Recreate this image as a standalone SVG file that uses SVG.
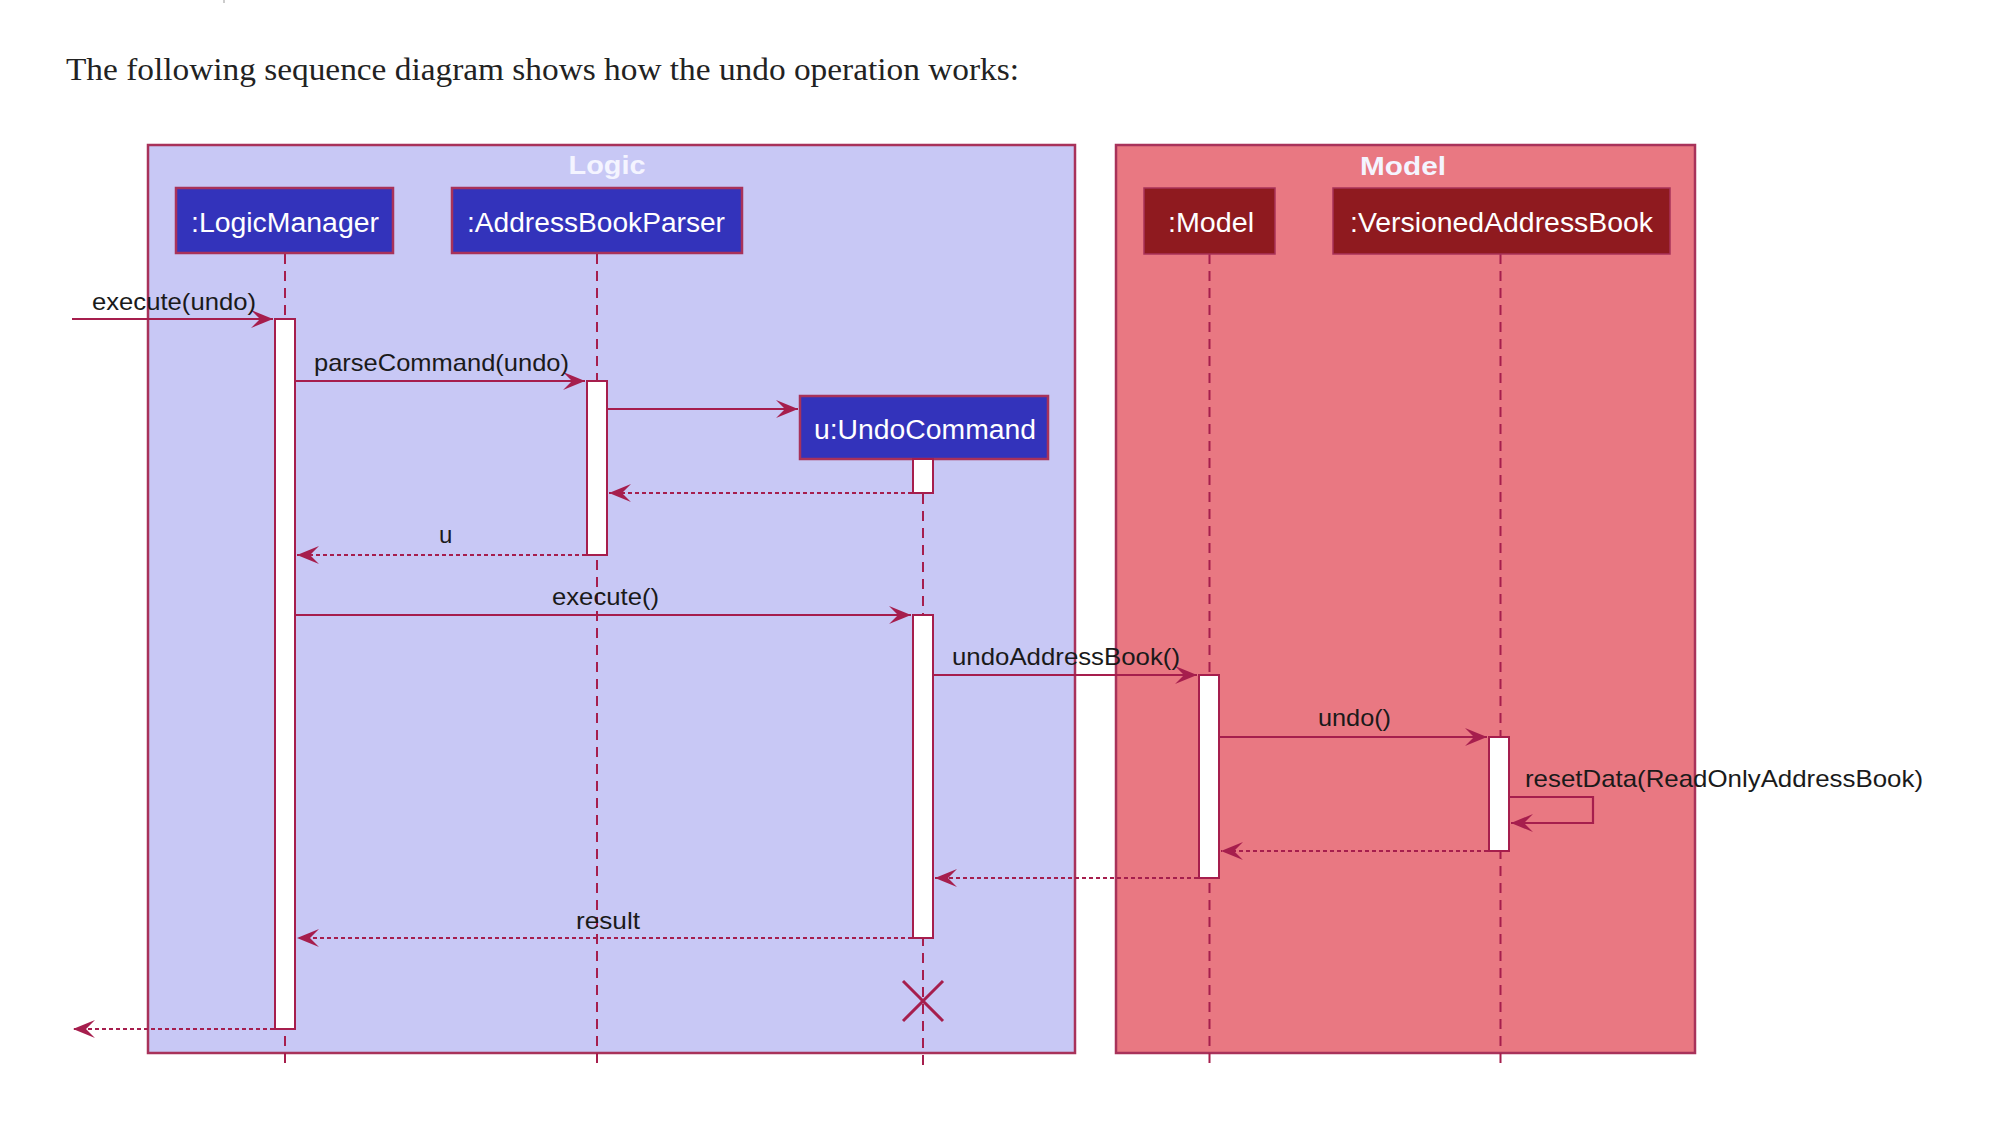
<svg xmlns="http://www.w3.org/2000/svg" width="1992" height="1122" viewBox="0 0 1992 1122">
<style>
.title{font-family:"Liberation Serif","Times New Roman",serif;font-size:31px;fill:#222}
.frameL{fill:#C8C8F5;stroke:#A8325A;stroke-width:2.5}
.frameM{fill:#E97882;stroke:#A8325A;stroke-width:2.5}
.ftitle{font-family:"Liberation Sans",Arial,sans-serif;font-weight:bold;font-size:26px;fill:#F4F4FF;text-anchor:middle}
.pL{fill:#3333BB;stroke:#A8325A;stroke-width:2.5}
.pM{fill:#8F1A1F;stroke:#A8325A;stroke-width:1.5}
.ptxt{font-family:"Liberation Sans",Arial,sans-serif;font-size:27px;fill:#FFFFFF}
.life{stroke:#A61E4D;stroke-width:2;stroke-dasharray:10,7;fill:none}
.act{fill:#FFFFFF;stroke:#A61E4D;stroke-width:2}
.msg{stroke:#A61E4D;stroke-width:2.2;fill:none;marker-end:url(#ah)}
.ret{stroke:#A61E4D;stroke-width:2.2;fill:none;stroke-dasharray:4,3;marker-end:url(#ah)}
.mtxt{font-family:"Liberation Sans",Arial,sans-serif;font-size:24px;fill:#1a1a1a}
</style>
<defs>
<marker id="ah" markerUnits="userSpaceOnUse" viewBox="-24 -11 26 22" refX="0" refY="0" markerWidth="26" markerHeight="22" orient="auto">
<path d="M0,0 L-22,-9 L-13,0 L-22,9 Z" fill="#A61E4D"/>
</marker>
</defs>
<rect width="1992" height="1122" fill="#FFFFFF"/>
<rect x="223" y="0" width="2" height="3" fill="#CCCCCC"/>
<text class="title" x="66" y="80" textLength="953" lengthAdjust="spacingAndGlyphs">The following sequence diagram shows how the undo operation works:</text>

<g id="frame-logic">
<rect class="frameL" x="148" y="145" width="927" height="908"/>
<text class="ftitle" x="607" y="174" textLength="77" lengthAdjust="spacingAndGlyphs">Logic</text>
</g>
<g id="frame-model">
<rect class="frameM" x="1116" y="145" width="579" height="908"/>
<text class="ftitle" x="1403" y="175" textLength="86" lengthAdjust="spacingAndGlyphs">Model</text>
</g>

<g id="lifelines">
<line class="life" x1="285" y1="254" x2="285" y2="1066"/>
<line class="life" x1="597" y1="254" x2="597" y2="1066"/>
<line class="life" x1="923" y1="460" x2="923" y2="1066"/>
<line class="life" x1="1209.5" y1="254" x2="1209.5" y2="1066"/>
<line class="life" x1="1500.5" y1="254" x2="1500.5" y2="1066"/>
</g>

<g id="LogicManager">
<rect class="pL" x="176" y="188" width="217" height="65"/>
<text class="ptxt" x="191" y="232" textLength="188" lengthAdjust="spacingAndGlyphs">:LogicManager</text>
<rect class="act" x="275" y="319" width="20" height="710"/>
</g>
<g id="AddressBookParser">
<rect class="pL" x="452" y="188" width="290" height="65"/>
<text class="ptxt" x="467" y="232" textLength="258" lengthAdjust="spacingAndGlyphs">:AddressBookParser</text>
<rect class="act" x="587" y="381" width="20" height="174"/>
</g>
<g id="UndoCommand">
<rect class="pL" x="800" y="396" width="248" height="63"/>
<text class="ptxt" x="814" y="439" textLength="222" lengthAdjust="spacingAndGlyphs">u:UndoCommand</text>
<rect class="act" x="913" y="459" width="20" height="34"/>
<rect class="act" x="913" y="615" width="20" height="323"/>
<g id="destroy">
<line x1="903" y1="981" x2="943" y2="1021" stroke="#A61E4D" stroke-width="3"/>
<line x1="943" y1="981" x2="903" y2="1021" stroke="#A61E4D" stroke-width="3"/>
</g>
</g>
<g id="Model">
<rect class="pM" x="1144" y="188" width="131" height="66"/>
<text class="ptxt" x="1168" y="232" textLength="86" lengthAdjust="spacingAndGlyphs">:Model</text>
<rect class="act" x="1199" y="675" width="20" height="203"/>
</g>
<g id="VersionedAddressBook">
<rect class="pM" x="1333" y="188" width="337" height="66"/>
<text class="ptxt" x="1350" y="232" textLength="303" lengthAdjust="spacingAndGlyphs">:VersionedAddressBook</text>
<rect class="act" x="1489" y="737" width="20" height="114"/>
</g>

<g id="connectors">
<path class="msg" d="M72,319 H273"/>
<path class="msg" d="M296,381 H585"/>
<path class="msg" d="M608,409 H798"/>
<path class="ret" d="M912,493 H609"/>
<path class="ret" d="M586,555 H297"/>
<path class="msg" d="M296,615 H911"/>
<path class="msg" d="M934,675 H1197"/>
<path class="msg" d="M1220,737 H1487"/>
<path class="msg" d="M1510,797 H1593 V823 H1511"/>
<path class="ret" d="M1488,851 H1221"/>
<path class="ret" d="M1198,878 H935"/>
<path class="ret" d="M912,938 H297"/>
<path class="ret" d="M274,1029 H73"/>
<text class="mtxt" x="92" y="310" textLength="164" lengthAdjust="spacingAndGlyphs">execute(undo)</text>
<text class="mtxt" x="314" y="371" textLength="255" lengthAdjust="spacingAndGlyphs">parseCommand(undo)</text>
<text class="mtxt" x="439" y="543">u</text>
<text class="mtxt" x="552" y="605" textLength="107" lengthAdjust="spacingAndGlyphs">execute()</text>
<text class="mtxt" x="952" y="665" textLength="228" lengthAdjust="spacingAndGlyphs">undoAddressBook()</text>
<text class="mtxt" x="1318" y="726" textLength="73" lengthAdjust="spacingAndGlyphs">undo()</text>
<text class="mtxt" x="1525" y="787" textLength="398" lengthAdjust="spacingAndGlyphs">resetData(ReadOnlyAddressBook)</text>
<text class="mtxt" x="576" y="929" textLength="64" lengthAdjust="spacingAndGlyphs">result</text>
</g>
</svg>
